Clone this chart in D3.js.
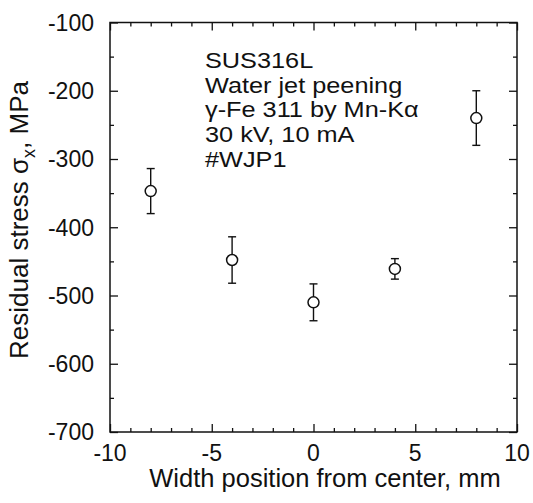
<!DOCTYPE html>
<html><head><meta charset="utf-8">
<script src="https://cdn.jsdelivr.net/npm/d3@7"></script>
<style>
body{margin:0;background:#fff;}
text{font-family:"Liberation Sans",Arial,Helvetica,sans-serif;fill:#111;}
</style></head>
<body><svg id="c" width="533" height="503"></svg>
<script>
// data
const positions = [-8, -4, 0, 4, 8];
const stress = [-347, -448, -510, -461, -240];
const errors = [33, 34, 27, 15, 40];
const xTicks = [-10, -5, 0, 5, 10];
const yTicks = [-700, -600, -500, -400, -300, -200, -100];
const notes = ["SUS316L", "Water jet peening", "γ-Fe 311 by Mn-Kα", "30 kV, 10 mA", "#WJP1"];

const svg = d3.select("#c");
const L = 110, R = 517, T = 22.5, B = 432;
const x = d3.scaleLinear().domain([-10, 10]).range([L, R]);
const y = d3.scaleLinear().domain([-700, -100]).range([B, T]);
const ink = "#111";

// frame
svg.append("rect").attr("x", L).attr("y", T).attr("width", R - L).attr("height", B - T)
  .attr("fill", "none").attr("stroke", ink).attr("stroke-width", 1.5);

// axes (inward ticks)
const minorX = d3.range(-10, 10.01, 1);
const minorY = d3.range(-700, -99, 50);
function tickLen(v, step){ return Math.abs(v % step) < 1e-6 ? 8 : 4; }

const bx = svg.append("g").attr("transform", `translate(0,${B})`);
bx.call(d3.axisBottom(x).tickValues(minorX).tickSize(0).tickFormat(""));
bx.select(".domain").remove();
bx.selectAll(".tick line").attr("y2", d => -tickLen(d, 5)).attr("stroke", ink).attr("stroke-width", 1.3);

const tx = svg.append("g").attr("transform", `translate(0,${T})`);
tx.call(d3.axisTop(x).tickValues(minorX).tickSize(0).tickFormat(""));
tx.select(".domain").remove();
tx.selectAll(".tick line").attr("y2", d => tickLen(d, 5)).attr("stroke", ink).attr("stroke-width", 1.3);

const ly = svg.append("g").attr("transform", `translate(${L},0)`);
ly.call(d3.axisLeft(y).tickValues(minorY).tickSize(0).tickFormat(""));
ly.select(".domain").remove();
ly.selectAll(".tick line").attr("x2", d => tickLen(d, 100)).attr("stroke", ink).attr("stroke-width", 1.3);

const ry = svg.append("g").attr("transform", `translate(${R},0)`);
ry.call(d3.axisRight(y).tickValues(minorY).tickSize(0).tickFormat(""));
ry.select(".domain").remove();
ry.selectAll(".tick line").attr("x2", d => -tickLen(d, 100)).attr("stroke", ink).attr("stroke-width", 1.3);

// tick labels
svg.append("g").selectAll("text").data(xTicks).join("text")
  .attr("x", d => x(d)).attr("y", 461).attr("text-anchor", "middle")
  .style("font-size", "23px").text(d => d);
svg.append("g").selectAll("text").data(yTicks).join("text")
  .attr("x", 94).attr("y", d => y(d)).attr("dy", "0.36em").attr("text-anchor", "end")
  .style("font-size", "23px").text(d => d);

// axis titles
svg.append("text").attr("x", 325).attr("y", 487).attr("text-anchor", "middle")
  .style("font-size", "25.5px").text("Width position from center, mm");
const yl = svg.append("text").attr("transform", "translate(28,220) rotate(-90)")
  .attr("text-anchor", "middle").style("font-size", "26px");
yl.append("tspan").text("Residual stress σ");
yl.append("tspan").attr("dy", 7).style("font-size", "18px").text("x");
yl.append("tspan").attr("dy", -7).text(", MPa");

// annotation (slightly wide lettering, tight line spacing)
svg.append("g").attr("transform", "translate(205,0) scale(1.15,1)")
  .selectAll("text").data(notes).join("text")
  .attr("x", 0).attr("y", (d, i) => 68.3 + i * 24.6)
  .style("font-size", "22px").text(d => d);

// error bars
const g = svg.append("g");
positions.forEach((p, i) => {
  const cx = x(p), top = y(stress[i] + errors[i]), bot = y(stress[i] - errors[i]);
  g.append("line").attr("x1", cx).attr("x2", cx).attr("y1", top).attr("y2", bot)
    .attr("stroke", ink).attr("stroke-width", 1.4);
  [top, bot].forEach(v => g.append("line").attr("x1", cx - 4).attr("x2", cx + 4)
    .attr("y1", v).attr("y2", v).attr("stroke", ink).attr("stroke-width", 1.4));
});
g.selectAll("circle").data(positions).join("circle")
  .attr("cx", d => x(d)).attr("cy", (d, i) => y(stress[i])).attr("r", 5.5)
  .attr("fill", "#fff").attr("stroke", ink).attr("stroke-width", 1.5);
</script></body></html>
